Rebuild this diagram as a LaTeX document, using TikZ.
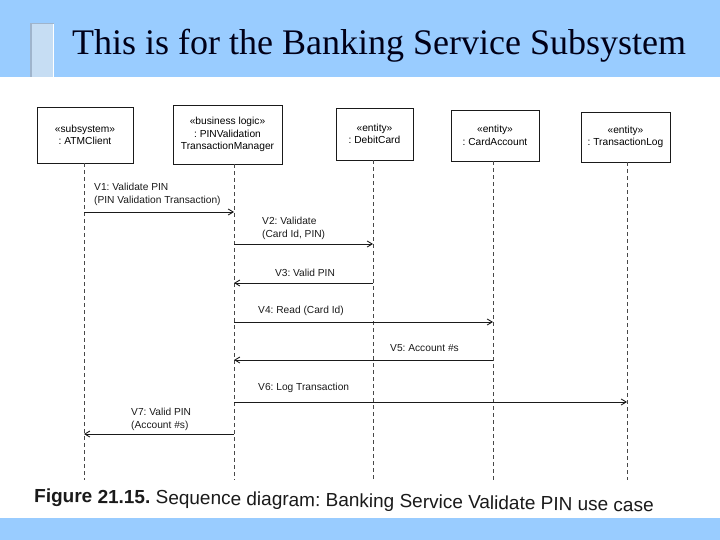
\documentclass[tikz,border=0pt]{standalone}
\usepackage{fontspec}
\setmainfont{Liberation Serif}
\newfontfamily\diagfont{Liberation Sans}
\usetikzlibrary{arrows.meta}
\frenchspacing
\definecolor{band}{HTML}{99CCFF}
\definecolor{tabfill}{HTML}{C6DDF3}
\definecolor{tabedge}{HTML}{9FB4CC}
\definecolor{ink}{HTML}{1A1A1A}
\definecolor{titleink}{HTML}{000018}
\tikzset{
  objbox/.style={draw=ink, line width=0.9pt, fill=white, align=center, font=\diagfont\fontsize{10.2}{12.5}\selectfont, inner sep=0pt},
  lifeline/.style={draw=ink!80, line width=0.6pt, dash pattern=on 4pt off 3pt},
  msg/.style={draw=ink, line width=0.9pt, -{Straight Barb[length=5pt,width=6pt]}},
  msglabel/.style={font=\diagfont\fontsize{10.2}{13}\selectfont, text=ink, inner sep=0pt, align=left},
}
\begin{document}
\begin{tikzpicture}[x=1pt,y=-1pt]
\useasboundingbox (0,0) rectangle (720,540);
% header and footer bands
\fill[band] (0,0) rectangle (720,77);
\fill[band] (0,518) rectangle (720,540);
\fill[tabfill] (30,23) rectangle (54,77);
\draw[tabedge, line width=1.5pt] (30.75,77) -- (30.75,23.75) -- (54,23.75);
\draw[white, line width=1.5pt] (53.25,24) -- (53.25,77);
\node[anchor=base west, inner sep=0pt, font=\fontsize{36}{40}\selectfont, text=titleink] (title) at (72,55) {This is for the Banking Service Subsystem};

% object boxes
\node[objbox, minimum width=96pt, minimum height=56pt] (atm) at (85,135) {«subsystem»\\: ATMClient};
\node[objbox, minimum width=109pt, minimum height=59pt] (pin) at (227.5,134.5) {«business logic»\\: PINValidation\\TransactionManager};
\node[objbox, minimum width=77pt, minimum height=52pt] (debit) at (374.5,134) {«entity»\\: DebitCard};
\node[objbox, minimum width=88pt, minimum height=51pt] (acct) at (495,135.5) {«entity»\\: CardAccount};
\node[objbox, minimum width=89pt, minimum height=50pt] (log) at (625.5,137) {«entity»\\: TransactionLog};

% lifeline ends
\coordinate (atmE) at (84,480);
\coordinate (pinE) at (234,480);
\coordinate (debitE) at (373,480);
\coordinate (acctE) at (493,480);
\coordinate (logE) at (627,480);
\draw[lifeline] (atm.south -| atmE) -- (atmE);
\draw[lifeline] (pin.south -| pinE) -- (pinE);
\draw[lifeline] (debit.south -| debitE) -- (debitE);
\draw[lifeline] (acct.south -| acctE) -- (acctE);
\draw[lifeline] (log.south -| logE) -- (logE);

% messages
\draw[msg] (atmE |- 0,212) -- (pinE |- 0,212);
\node[msglabel, anchor=south west] (l1) at (94,206) {V1: Validate PIN\\(PIN Validation Transaction)};
\draw[msg] (pinE |- 0,244) -- (debitE |- 0,244);
\node[msglabel, anchor=south west] (l2) at (262,240) {V2: Validate\\(Card Id, PIN)};
\draw[msg] (debitE |- 0,283) -- (pinE |- 0,283);
\node[msglabel, anchor=south] (l3) at (305,277) {V3: Valid PIN};
\draw[msg] (pinE |- 0,322) -- (acctE |- 0,322);
\node[msglabel, anchor=south west] (l4) at (258,316) {V4: Read (Card Id)};
\draw[msg] (acctE |- 0,360) -- (pinE |- 0,360);
\node[msglabel, anchor=south west] (l5) at (390,352) {V5: Account \#s};
\draw[msg] (pinE |- 0,402) -- (logE |- 0,402);
\node[msglabel, anchor=south west] (l6) at (258,393) {V6: Log Transaction};
\draw[msg] (pinE |- 0,434) -- (atmE |- 0,434);
\node[msglabel, anchor=south west] (l7) at (131,431) {V7: Valid PIN\\(Account \#s)};

% caption
\node[anchor=base west, inner sep=0pt, rotate=-0.9, font=\diagfont\fontsize{19}{21}\selectfont, text=ink] (cap) at (34,502) {\textbf{Figure 21.15.} Sequence diagram: Banking Service Validate PIN use case};
\end{tikzpicture}
\end{document}
